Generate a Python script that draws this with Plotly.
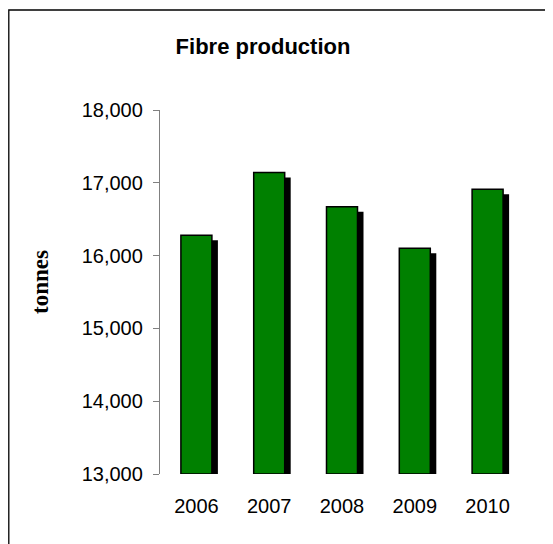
import plotly.graph_objects as go

years = [2006, 2007, 2008, 2009, 2010]
production = [16280, 17140, 16670, 16100, 16910]
tick_vals = [13000, 14000, 15000, 16000, 17000, 18000]
tick_text = ["13,000", "14,000", "15,000", "16,000", "17,000", "18,000"]

OFF = 8  # page body margin
W, H = 553 - OFF, 544 - OFF
# plot area in screen pixels: x 160..524, y 110..474
L, R, T, B = 160 - OFF, 553 - 524, 110 - OFF, 544 - 474
pw = W - L - R
ph = H - T - B
ymin, ymax = 13000, 18000
xmin, xmax = 2005.5, 2010.5
px_x = (xmax - xmin) / pw
px_y = (ymax - ymin) / ph

bar_w = 31 * px_x
sh_dx = 6 * px_x
sh_dy = 5 * px_y

fig = go.Figure()
fig.add_trace(go.Bar(
    x=[y + sh_dx for y in years],
    y=[v - sh_dy - ymin for v in production],
    base=ymin,
    width=bar_w,
    marker=dict(color="black", line=dict(width=0)),
    hoverinfo="skip",
    showlegend=False,
))
fig.add_trace(go.Bar(
    x=years,
    y=[v - ymin for v in production],
    base=ymin,
    width=bar_w,
    marker=dict(color="#008000", line=dict(color="black", width=1.5)),
    showlegend=False,
))

def paper_x(sx):
    return (sx - OFF - L) / pw

def paper_y(sy):
    return (H - B - (sy - OFF)) / ph

fig.add_shape(type="rect", xref="paper", yref="paper",
              x0=paper_x(8.8), x1=paper_x(580), y0=paper_y(580), y1=paper_y(10),
              line=dict(color="black", width=1.3), fillcolor="rgba(0,0,0,0)", layer="below")

fig.add_annotation(text="<b>tonnes</b>", xref="paper", yref="paper",
                   x=paper_x(40), y=paper_y(282), textangle=-90, showarrow=False,
                   xanchor="center", yanchor="middle",
                   font=dict(family="Liberation Serif, Times New Roman, serif", size=23, color="black"))

fig.update_layout(
    width=W, height=H,
    margin=dict(l=L, r=R, t=T, b=B),
    paper_bgcolor="white", plot_bgcolor="white",
    barmode="overlay",
    title=dict(text="<b>Fibre production</b>", x=(263 - OFF) / W, xanchor="center",
               y=1 - (46 - OFF) / H, yanchor="middle", xref="container", yref="container",
               font=dict(family="Liberation Sans, Arial, sans-serif", size=22, color="black")),
    font=dict(family="Liberation Sans, Arial, sans-serif", size=20, color="black"),
)
fig.update_xaxes(range=[xmin, xmax], tickvals=years, ticktext=[str(y) for y in years],
                 showline=False, showgrid=False, zeroline=False, ticks="",
                 ticklabelstandoff=18, tickfont=dict(size=20))
fig.update_yaxes(range=[ymin, ymax], tickvals=tick_vals, ticktext=tick_text,
                 showline=True, linecolor="#808080", linewidth=1.3,
                 ticks="outside", ticklen=6, tickcolor="#808080", tickwidth=1.3,
                 showgrid=False, zeroline=False, ticklabelstandoff=6, tickfont=dict(size=20))

fig.write_html("out.html")
